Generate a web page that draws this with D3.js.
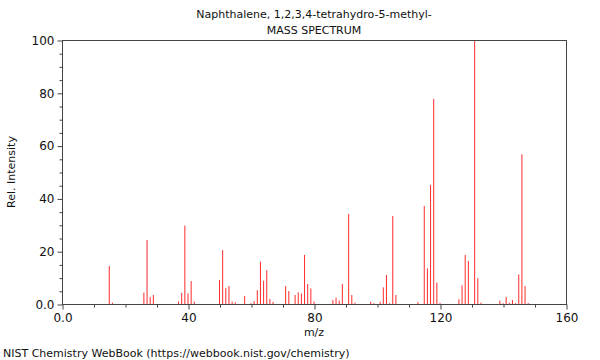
<!DOCTYPE html>
<html>
<head>
<meta charset="utf-8">
<script src="https://cdn.jsdelivr.net/npm/d3@7"></script>
<style>
  html, body { margin: 0; padding: 0; background: #fff; }
  svg { display: block; font-family: "DejaVu Sans", sans-serif; }
</style>
</head>
<body>
<svg id="chart" width="600" height="360"></svg>
<script>
const titleLines = ["Naphthalene, 1,2,3,4-tetrahydro-5-methyl-", "MASS SPECTRUM"];
const xLabel = "m/z";
const yLabel = "Rel. Intensity";
const footer = "NIST Chemistry WebBook (https://webbook.nist.gov/chemistry)";

const mz = [15, 16, 26, 27, 28, 29, 37, 38, 39, 40, 41, 42,
  50, 51, 52, 53, 54, 55, 58, 60, 61, 62, 63, 64, 65, 66, 67,
  71, 72, 74, 75, 76, 77, 78, 79, 80, 86, 87, 88, 89, 91, 92, 93,
  98, 99, 101, 102, 103, 104, 105, 106, 113, 115, 116, 117, 118, 119, 120,
  126, 127, 128, 129, 131, 132, 133, 139, 140, 141, 142, 143, 144, 145, 146, 147, 148];
const intensity = [14.4, 0.5, 4.3, 24.2, 2.6, 3.4, 1.0, 4.2, 29.7, 4.0, 8.7, 0.9,
  9.1, 20.4, 6.0, 6.8, 0.9, 0.7, 3.0, 0.3, 1.1, 5.2, 16.0, 8.8, 12.8, 1.9, 0.8,
  6.8, 4.9, 3.4, 4.4, 4.0, 18.6, 7.6, 5.9, 0.9, 1.5, 2.4, 1.3, 7.6, 34.1, 3.4, 0.5,
  0.8, 0.3, 0.8, 6.3, 11.0, 0.3, 33.3, 3.4, 0.7, 37.1, 13.5, 45.1, 77.7, 8.1, 0.4,
  1.8, 7.1, 18.6, 16.3, 100, 9.8, 0.5, 1.3, 0.3, 2.7, 0.5, 1.5, 0.3, 11.2, 56.7, 6.8, 0.4];

const xDomain = [0, 160];
const yDomain = [0, 100];
const xMajor = [0, 40, 80, 120, 160];
const xMajorLabels = ["0.0", "40", "80", "120", "160"];
const yMajor = [0, 20, 40, 60, 80, 100];
const yMajorLabels = ["0.0", "20", "40", "60", "80", "100"];

const svg = d3.select("#chart");
const W = 600, H = 360;
const m = { left: 62, right: 34, top: 40, bottom: 56 };
const x = d3.scaleLinear().domain(xDomain).range([m.left, W - m.right]);
const y = d3.scaleLinear().domain(yDomain).range([H - m.bottom, m.top]);

// Bars
svg.append("g").selectAll("line")
  .data(mz.map((d, i) => ({ mz: d, v: intensity[i] })))
  .join("line")
  .attr("x1", d => x(d.mz)).attr("x2", d => x(d.mz))
  .attr("y1", y(0)).attr("y2", d => y(d.v))
  .attr("stroke", "#ff2a2a").attr("stroke-width", 1);

const axisColor = "#444";
// Frame
svg.append("rect")
  .attr("x", x(0) + 0.5).attr("y", y(100) + 0.5)
  .attr("width", x(160) - x(0)).attr("height", y(0) - y(100))
  .attr("fill", "none").attr("stroke", axisColor).attr("stroke-width", 1);

// X axis
const xMinor = d3.range(0, 161, 10).filter(v => !xMajor.includes(v));
const gx = svg.append("g").attr("transform", `translate(0.5,${y(0) + 0.5})`);
gx.call(d3.axisBottom(x).tickValues(xMinor).tickSize(3).tickFormat(""))
  .call(g => g.select(".domain").remove())
  .call(g => g.selectAll("line").attr("stroke", axisColor));
const gx2 = svg.append("g").attr("transform", `translate(0.5,${y(0) + 0.5})`);
gx2.call(d3.axisBottom(x).tickValues(xMajor).tickSize(5).tickPadding(4)
    .tickFormat((d, i) => xMajorLabels[i]))
  .call(g => g.select(".domain").remove())
  .call(g => g.selectAll("line").attr("stroke", axisColor))
  .call(g => g.selectAll("text").attr("font-size", 12).attr("fill", "#111")
    .attr("font-family", "DejaVu Sans, sans-serif"));

// Y axis
const yMinor = d3.range(0, 101, 5).filter(v => !yMajor.includes(v));
const gy = svg.append("g").attr("transform", `translate(${x(0) + 0.5},0.5)`);
gy.call(d3.axisLeft(y).tickValues(yMinor).tickSize(3).tickFormat(""))
  .call(g => g.select(".domain").remove())
  .call(g => g.selectAll("line").attr("stroke", axisColor));
const gy2 = svg.append("g").attr("transform", `translate(${x(0) + 0.5},0.5)`);
gy2.call(d3.axisLeft(y).tickValues(yMajor).tickSize(5).tickPadding(3)
    .tickFormat((d, i) => yMajorLabels[i]))
  .call(g => g.select(".domain").remove())
  .call(g => g.selectAll("line").attr("stroke", axisColor))
  .call(g => g.selectAll("text").attr("font-size", 12).attr("fill", "#111")
    .attr("font-family", "DejaVu Sans, sans-serif"));

// Titles
const cx = (x(0) + x(160)) / 2;
svg.append("text").attr("x", cx).attr("y", 18).attr("text-anchor", "middle")
  .attr("font-size", 11).attr("fill", "#111").text(titleLines[0]);
svg.append("text").attr("x", cx).attr("y", 34).attr("text-anchor", "middle")
  .attr("font-size", 11).attr("fill", "#111").text(titleLines[1]);

svg.append("text").attr("x", cx).attr("y", 336).attr("text-anchor", "middle")
  .attr("font-size", 11).attr("fill", "#111").text(xLabel);
svg.append("text").attr("transform", `translate(15,${(y(0) + y(100)) / 2}) rotate(-90)`)
  .attr("text-anchor", "middle").attr("font-size", 11).attr("fill", "#111").text(yLabel);
svg.append("text").attr("x", 3).attr("y", 357)
  .attr("font-size", 11).attr("fill", "#111").text(footer);
</script>
</body>
</html>
